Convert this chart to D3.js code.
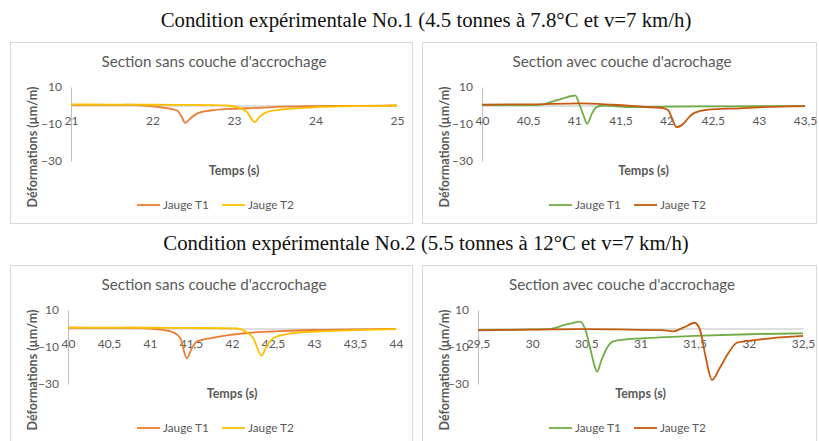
<!DOCTYPE html>
<html><head><meta charset="utf-8">
<script src="https://cdn.jsdelivr.net/npm/d3@7"></script>
<style>body{margin:0;background:#fff;} svg{display:block;}</style>
</head><body>
<script>
// ---------- DATA ----------
const mainTitles = [
  "Condition expérimentale No.1 (4.5 tonnes à 7.8°C et v=7 km/h)",
  "Condition expérimentale No.2 (5.5 tonnes à 12°C et v=7 km/h)"
];
const panelTitles = [
  "Section sans couche d'accrochage",
  "Section avec couche d'acrochage",
  "Section sans couche d'accrochage",
  "Section avec couche d'accrochage"
];
const seriesNames = ["Jauge T1", "Jauge T2"];
const xAxisTitle = "Temps (s)";
const yAxisTitle = "Déformations (µm/m)";
const yTicks = [10, -10, -30];
const xTicksA = [21, 22, 23, 24, 25];
const xTicksB = [40, 40.5, 41, 41.5, 42, 42.5, 43, 43.5];
const xTicksC = [40, 40.5, 41, 41.5, 42, 42.5, 43, 43.5, 44];
const xTicksD = [29.5, 30, 30.5, 31, 31.5, 32, 32.5];

// Condition 1 - sans couche
const c1SansT1 = [[21,0.3],[21.5,0.3],[21.72,0.4],[21.97,-0.3],[22.13,-1.2],[22.3,-2.7],[22.36,-6.3],[22.4,-9.4],[22.46,-7.2],[22.54,-4.5],[22.71,-2.7],[22.95,-1.8],[23.28,-1.3],[23.6,-0.6],[23.93,-0.3],[24.5,-0.2],[25,0]];
const c1SansT2 = [[21,0.6],[21.5,0.5],[22,0.4],[22.5,0.3],[22.91,0],[23.07,-1.3],[23.16,-3.6],[23.22,-7.5],[23.25,-9.0],[23.32,-5.9],[23.4,-3.6],[23.56,-2.3],[23.85,-1.3],[24.2,-0.6],[24.6,-0.3],[25,0]];
// Condition 1 - avec couche
const c1AvecT1 = [[40,0.2],[40.5,0.2],[40.65,0.5],[40.74,1.8],[40.88,3.9],[41.01,5.4],[41.06,0],[41.1,-5.4],[41.14,-9.9],[41.19,-4.5],[41.24,-0.9],[41.31,0],[41.45,-0.4],[41.6,-0.9],[42.04,-0.6],[42.47,-0.5],[43,-0.4],[43.5,-0.3]];
const c1AvecT2 = [[40,0.5],[40.5,0.6],[41.06,1.2],[41.42,0.4],[41.78,-0.8],[41.96,-1.4],[42.02,-2.7],[42.06,-7.2],[42.11,-11.7],[42.18,-10],[42.24,-6.5],[42.3,-4],[42.45,-2.2],[42.8,-1.5],[43,-1.0],[43.5,-0.3]];
// Condition 2 - sans couche
const c2SansT1 = [[40,0.4],[40.5,0.3],[40.76,0.4],[41,0],[41.16,-0.8],[41.28,-2],[41.37,-5.3],[41.45,-16.1],[41.51,-10.7],[41.57,-7.1],[41.73,-5.3],[41.98,-3.5],[42.22,-2.3],[42.59,-1.4],[42.99,-0.8],[43.5,-0.5],[44,-0.2]];
const c2SansT2 = [[40,0.5],[40.5,0.5],[41,0.4],[41.5,0.3],[42.06,0],[42.17,-1.7],[42.26,-5.3],[42.36,-14.7],[42.42,-9.8],[42.5,-5.3],[42.67,-3],[42.87,-2],[43.15,-1.4],[43.5,-0.9],[44,-0.3]];
// Condition 2 - avec couche
const c2AvecT1 = [[29.5,-0.8],[29.8,-0.6],[30,-0.5],[30.16,-0.3],[30.29,1.8],[30.38,3.1],[30.44,3.7],[30.49,-0.5],[30.54,-11.7],[30.58,-21],[30.6,-23.3],[30.64,-17],[30.69,-10.5],[30.75,-7],[30.87,-5.9],[31,-5.4],[31.5,-4],[32,-3.1],[32.5,-2.6]];
const c2AvecT2 = [[29.5,-1.0],[30,-0.6],[30.44,-0.3],[30.8,-0.5],[31.2,-0.9],[31.3,-1.5],[31.4,0.6],[31.5,3.1],[31.55,-0.9],[31.6,-15],[31.66,-27.8],[31.73,-21.5],[31.81,-13.4],[31.89,-7.7],[32.01,-6.6],[32.2,-5.3],[32.5,-4.0]];

// ---------- LAYOUT ----------
const W = 819, H = 441;
const colorsSans = ["#ED7D31", "#FFC000"];
const colorsAvec = ["#70AD47", "#C55A11"];

const panels = [
  {box:[10,42,412,223], px:[71,397], py:[161,87], xd:[21,25], ticks:xTicksA, title:panelTitles[0], series:[c1SansT1,c1SansT2], colors:colorsSans},
  {box:[422,42,816,223], px:[482,805], py:[161,87], xd:[40,43.5], ticks:xTicksB, title:panelTitles[1], series:[c1AvecT1,c1AvecT2], colors:colorsAvec},
  {box:[10,265,412,446], px:[68,396], py:[384,310], xd:[40,44], ticks:xTicksC, title:panelTitles[2], series:[c2SansT1,c2SansT2], colors:colorsSans},
  {box:[422,265,816,446], px:[478,803], py:[384,310], xd:[29.5,32.5], ticks:xTicksD, title:panelTitles[3], series:[c2AvecT1,c2AvecT2], colors:colorsAvec}
];

const svg = d3.select("body").append("svg").attr("width", W).attr("height", H);
svg.append("rect").attr("width", W).attr("height", H).attr("fill", "#fff");

const fmt = v => String(v).replace(".", ",");
const FONT = "Lato, 'Open Sans', sans-serif";
const TXT = "#595959";

// main titles
[[mainTitles[0], 20], [mainTitles[1], 243]].forEach(([t, y]) => {
  svg.append("text").attr("x", 426).attr("y", y).attr("dy", "0.35em")
    .attr("text-anchor", "middle").attr("font-family", "'Liberation Serif', serif")
    .attr("font-size", 20.8).attr("fill", "#111").text(t);
});

panels.forEach(p => {
  const [bx0, by0, bx1, by1] = p.box;
  const g = svg.append("g");
  g.append("rect").attr("x", bx0 + 0.5).attr("y", by0 + 0.5)
    .attr("width", bx1 - bx0).attr("height", by1 - by0)
    .attr("fill", "#fff").attr("stroke", "#D9D9D9").attr("stroke-width", 1);

  const x = d3.scaleLinear().domain(p.xd).range(p.px);
  const y = d3.scaleLinear().domain([-30, 10]).range(p.py);
  const cx = (bx0 + bx1) / 2;

  // panel title
  g.append("text").attr("x", cx + 3).attr("y", by0 + 20).attr("dy", "0.35em")
    .attr("text-anchor", "middle").attr("font-family", FONT).attr("font-size", 15.2)
    .attr("fill", TXT).text(p.title);

  // y axis (line only, labels)
  const yAx = d3.axisLeft(y).tickValues(yTicks).tickSize(0).tickPadding(9);
  const yg = g.append("g").attr("transform", `translate(${p.px[0]},0)`).call(yAx);
  yg.select(".domain").attr("stroke", "#BFBFBF");
  yg.selectAll("text").attr("font-family", FONT).attr("font-size", 12).attr("fill", TXT);

  // x axis at y=0
  const xAx = d3.axisBottom(x).tickValues(p.ticks).tickFormat(fmt).tickSize(0).tickPadding(11);
  const xg = g.append("g").attr("transform", `translate(0,${y(0)})`).call(xAx);
  xg.select(".domain").attr("stroke", "#BFBFBF");
  xg.selectAll("text").attr("font-family", FONT).attr("font-size", 12).attr("fill", TXT);

  // series
  const line = d3.line().x(d => x(d[0])).y(d => y(d[1])).curve(d3.curveMonotoneX);
  p.series.forEach((s, i) => {
    g.append("path").datum(s).attr("d", line).attr("fill", "none")
      .attr("stroke", p.colors[i]).attr("stroke-width", 1.8).attr("stroke-linejoin", "round");
  });

  // axis titles
  g.append("text").attr("x", (p.px[0] + p.px[1]) / 2).attr("y", p.py[0] + 10).attr("dy", "0.35em")
    .attr("text-anchor", "middle").attr("font-family", FONT).attr("font-size", 12.5)
    .attr("font-weight", "bold").attr("fill", TXT).text(xAxisTitle);
  g.append("text").attr("transform", `translate(${bx0 + 23},${p.py[1] + 60}) rotate(-90)`)
    .attr("dy", "0.35em").attr("text-anchor", "middle").attr("font-family", FONT)
    .attr("font-size", 12.5).attr("font-weight", "bold").attr("fill", TXT).text(yAxisTitle);

  // legend
  const ly = p.py[0] + 44;
  const lx = bx0 + 127;
  seriesNames.forEach((n, i) => {
    const ox = lx + i * 85;
    g.append("line").attr("x1", ox).attr("x2", ox + 23).attr("y1", ly).attr("y2", ly)
      .attr("stroke", p.colors[i]).attr("stroke-width", 1.8);
    g.append("text").attr("x", ox + 26).attr("y", ly).attr("dy", "0.35em")
      .attr("font-family", FONT).attr("font-size", 11.8).attr("fill", TXT).text(n);
  });
});
</script>
</body></html>
